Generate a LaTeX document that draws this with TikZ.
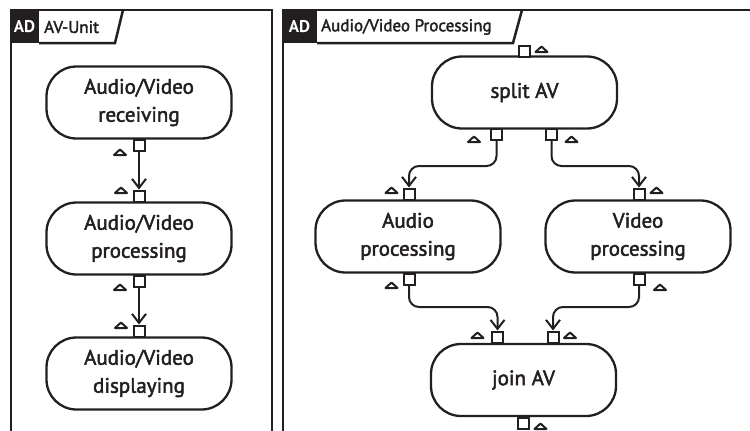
\documentclass[tikz,border=0pt]{standalone}
\usepackage{fontspec}
\setmainfont{PT Sans}[BoldFont=PT Sans,BoldFeatures={FakeBold=2.2}]
\newfontfamily\adfont{PT Sans}
\usetikzlibrary{arrows.meta}
\definecolor{ink}{HTML}{231F20}
\begin{document}
\begin{tikzpicture}[x=1pt,y=-1pt,
  act/.style={draw=ink,line width=2.3pt,rounded corners=30pt,minimum width=185pt,minimum height=72pt,align=center,font=\bfseries\fontsize{21}{28}\selectfont,text=ink,inner sep=0pt},
  pinbox/.style={draw=ink,line width=2pt,fill=white,minimum size=11pt,inner sep=0pt},
  flow/.style={draw=ink,line width=2pt,rounded corners=10pt,-{Straight Barb[length=9pt,width=14pt,line width=2pt]}},
  tri/.style={draw=ink,line width=2pt,fill=white,line join=round},
  frame/.style={draw=ink,line width=2.5pt},
  tagtext/.style={text=ink,font=\bfseries\fontsize{17}{20}\selectfont,anchor=west,inner sep=0pt},
  tagad/.style={text=white,font=\adfont\bfseries\fontsize{17}{20}\selectfont,inner sep=0pt}]
\useasboundingbox (0,0) rectangle (750,431);
\newcommand\pintri[2]{\draw[tri] (#1-6,#2) -- (#1+6,#2) -- (#1,#2-5.5) -- cycle;}
% frames
\draw[frame] (11,431) -- (11,10) -- (272,10) -- (272,431);
\fill[ink] (10,9) rectangle (39,43);
\node[tagad] (ad1) at (24.5,27) {AD};
\node[tagtext] (t1) at (44,27) {AV-Unit};
\draw[frame] (39,43) -- (115,43) -- (123,10);
\draw[frame] (283,431) -- (283,10) -- (750,10);
\fill[ink] (282,9) rectangle (317,43);
\node[tagad] (ad2) at (299.5,27) {AD};
\node[tagtext] (t2) at (321,27) {Audio/Video Processing};
\draw[frame] (317,43) -- (513,43) -- (522,10);
% left activities
\node[act] (l1) at (139,102.5) {Audio/Video\\receiving};
\node[act] (l2) at (139,238.5) {Audio/Video\\processing};
\node[act] (l3) at (139,373.5) {Audio/Video\\displaying};
\node[pinbox] (l1o) at (139,145) {};
\node[pinbox] (l2i) at (139,196) {};
\node[pinbox] (l2o) at (139,281) {};
\node[pinbox] (l3i) at (139,331) {};
\pintri{120}{155}
\pintri{121}{193}
\pintri{120}{290}
\pintri{121}{328}
\draw[flow] (l1o.south) -- (l2i.north);
\draw[flow] (l2o.south) -- (l3i.north);
% right activities
\node[act] (sp) at (524.5,92.5) {split AV};
\node[act] (au) at (408,236.5) {Audio\\processing};
\node[act] (vi) at (638,236.5) {Video\\processing};
\node[act] (jo) at (523.5,380) {join AV};
\node[pinbox] (spi) at (524,51) {};
\node[pinbox] (spl) at (496.5,134) {};
\node[pinbox] (spr) at (551.5,134) {};
\node[pinbox] (aui) at (409,194) {};
\node[pinbox] (vii) at (639,194) {};
\node[pinbox] (auo) at (409,279) {};
\node[pinbox] (vio) at (639,279) {};
\node[pinbox] (jol) at (497.5,337) {};
\node[pinbox] (jor) at (553,337) {};
\node[pinbox] (joo) at (523.5,423) {};
\pintri{541.5}{52}
\pintri{474}{142}
\pintri{571.5}{142}
\pintri{391.5}{193}
\pintri{656.5}{193}
\pintri{391.5}{288}
\pintri{660}{290}
\pintri{477.5}{338}
\pintri{570}{338}
\pintri{540.5}{429}
\draw[flow] (spl.south) -- (spl.south |- 0,166) -- (aui.north |- 0,166) -- (aui.north);
\draw[flow] (spr.south) -- (spr.south |- 0,166) -- (vii.north |- 0,166) -- (vii.north);
\draw[flow] (auo.south) -- (auo.south |- 0,307) -- (jol.north |- 0,307) -- (jol.north);
\draw[flow] (vio.south) -- (vio.south |- 0,307) -- (jor.north |- 0,307) -- (jor.north);
\end{tikzpicture}
\end{document}
